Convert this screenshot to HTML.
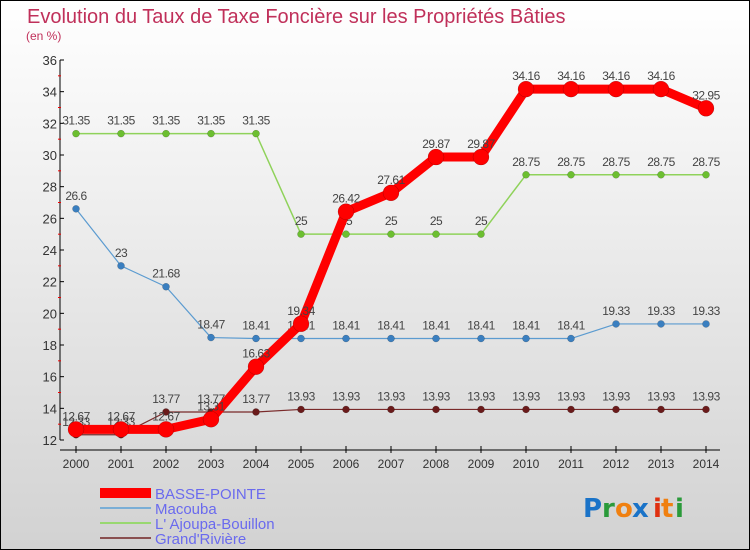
<!DOCTYPE html>
<html><head><meta charset="utf-8"><style>
body{margin:0;width:750px;height:550px;overflow:hidden}
svg{display:block;font-family:"Liberation Sans",sans-serif}
</style></head><body>
<svg id="c" width="750" height="550" xmlns="http://www.w3.org/2000/svg">
<defs><linearGradient id="bg" x1="0" y1="0" x2="0" y2="1"><stop offset="0" stop-color="#ffffff"/><stop offset="1" stop-color="#d2d2d2"/></linearGradient></defs>
<rect x="0.5" y="0.5" width="749" height="549" fill="url(#bg)" stroke="#000"/>
<text x="27" y="23" font-size="20" fill="#c0305a">Evolution du Taux de Taxe Foncière sur les Propriétés Bâties</text>
<text x="26" y="40" font-size="12" fill="#c0305a">(en %)</text>
<g id="axes"></g><g id="series"></g><g id="legend"></g>
<g font-size="26" font-weight="bold" font-family="'DejaVu Sans',sans-serif">
<text x="583" y="517" fill="#1a73c8">P</text><text x="602" y="517" fill="#2a9a3a">r</text><text x="615" y="517" fill="#f08010">o</text><text x="632" y="517" fill="#1a73c8">x</text><text x="653" y="517" fill="#e03010">i</text><text x="661" y="517" fill="#f08010">t</text><text x="675" y="517" fill="#2a9a3a">i</text></g>
</svg>
<script>
const years=[2000,2001,2002,2003,2004,2005,2006,2007,2008,2009,2010,2011,2012,2013,2014];
const yTicks=[12,14,16,18,20,22,24,26,28,30,32,34,36];
const basse=[12.67,12.67,12.67,13.31,16.63,19.34,26.42,27.61,29.87,29.87,34.16,34.16,34.16,34.16,32.95];
const macouba=[26.6,23,21.68,18.47,18.41,18.41,18.41,18.41,18.41,18.41,18.41,18.41,19.33,19.33,19.33];
const ajoupa=[31.35,31.35,31.35,31.35,31.35,25,25,25,25,25,28.75,28.75,28.75,28.75,28.75];
const grand=[12.33,12.33,13.77,13.77,13.77,13.93,13.93,13.93,13.93,13.93,13.93,13.93,13.93,13.93,13.93];
const seriesNames=["BASSE-POINTE","Macouba","L' Ajoupa-Bouillon","Grand'Rivière"];
const NS="http://www.w3.org/2000/svg";
const X=i=>76+i*45, Y=v=>440-(v-12)*380/24;
function mk(tag,a,p,txt){const e=document.createElementNS(NS,tag);for(const k in a)e.setAttribute(k,a[k]);if(txt!==undefined)e.textContent=txt;p.appendChild(e);return e;}
const ax=document.getElementById('axes');
let e=mk('line',{x1:60,y1:60,x2:60,y2:440,stroke:'#000'},ax);


e=mk('line',{x1:60,y1:450,x2:720,y2:450,stroke:'#000'},ax);


yTicks.forEach((t,i)=>{
 mk('line',{x1:60,y1:Y(t),x2:64,y2:Y(t),stroke:'#000'},ax);
 if(i<yTicks.length-1)mk('line',{x1:58,y1:Y(t+1),x2:61,y2:Y(t+1),stroke:'#e00'},ax);
 e=mk('text',{x:57,y:Y(t)+5,'font-size':13,'text-anchor':'end',fill:'#333'},ax,t);
 
 
});
years.forEach((y,i)=>{
 mk('line',{x1:X(i),y1:446,x2:X(i),y2:453,stroke:'#000'},ax);
 e=mk('text',{x:X(i),y:468,'font-size':12,'text-anchor':'middle',fill:'#333'},ax,y);
 
 
});
const sg=document.getElementById('series');
const defs=[[ajoupa,'#8fd25a','#6cbf30',1.5,3.5,'ajoupa'],[macouba,'#5b9bd0','#3a7fc0',1.2,3.5,'macouba'],[grand,'#7a2a2a','#6a1a1a',1.2,3.5,'grand-riviere'],[basse,'#f00','#f00',9,8,'basse-pointe']];
defs.forEach(([d,lc,pc,w,r,n])=>{
 const g=mk('g',{},sg);
 
 
 e=mk('polyline',{points:d.map((v,i)=>X(i)+','+Y(v)).join(' '),fill:'none',stroke:lc,'stroke-width':w,'stroke-linejoin':'round'},g);
 
 
 d.forEach((v,i)=>{
  e=mk('circle',{cx:X(i),cy:Y(v),r:r,fill:pc,stroke:'rgba(0,0,0,0.3)','stroke-width':0.5},g);
  
  
  e=mk('text',{x:X(i),y:Y(v)-9,'font-size':12,'text-anchor':'middle',fill:'#444','letter-spacing':'-0.5'},g,String(v));
  
  
 });
});
const lg=document.getElementById('legend');
const lcol=['#f00','#7aaed6','#99d870','#8a5050'],lw=[10,2,2,2];
seriesNames.forEach((s,i)=>{
 const y=493+i*15;
 const g=mk('g',{},lg);
 
 
 mk('line',{x1:100,y1:y,x2:151,y2:y,stroke:lcol[i],'stroke-width':lw[i]},g);
 mk('text',{x:155,y:y+6,'font-size':15,fill:'#6a6aee'},g,s);
});
</script>
</body></html>
